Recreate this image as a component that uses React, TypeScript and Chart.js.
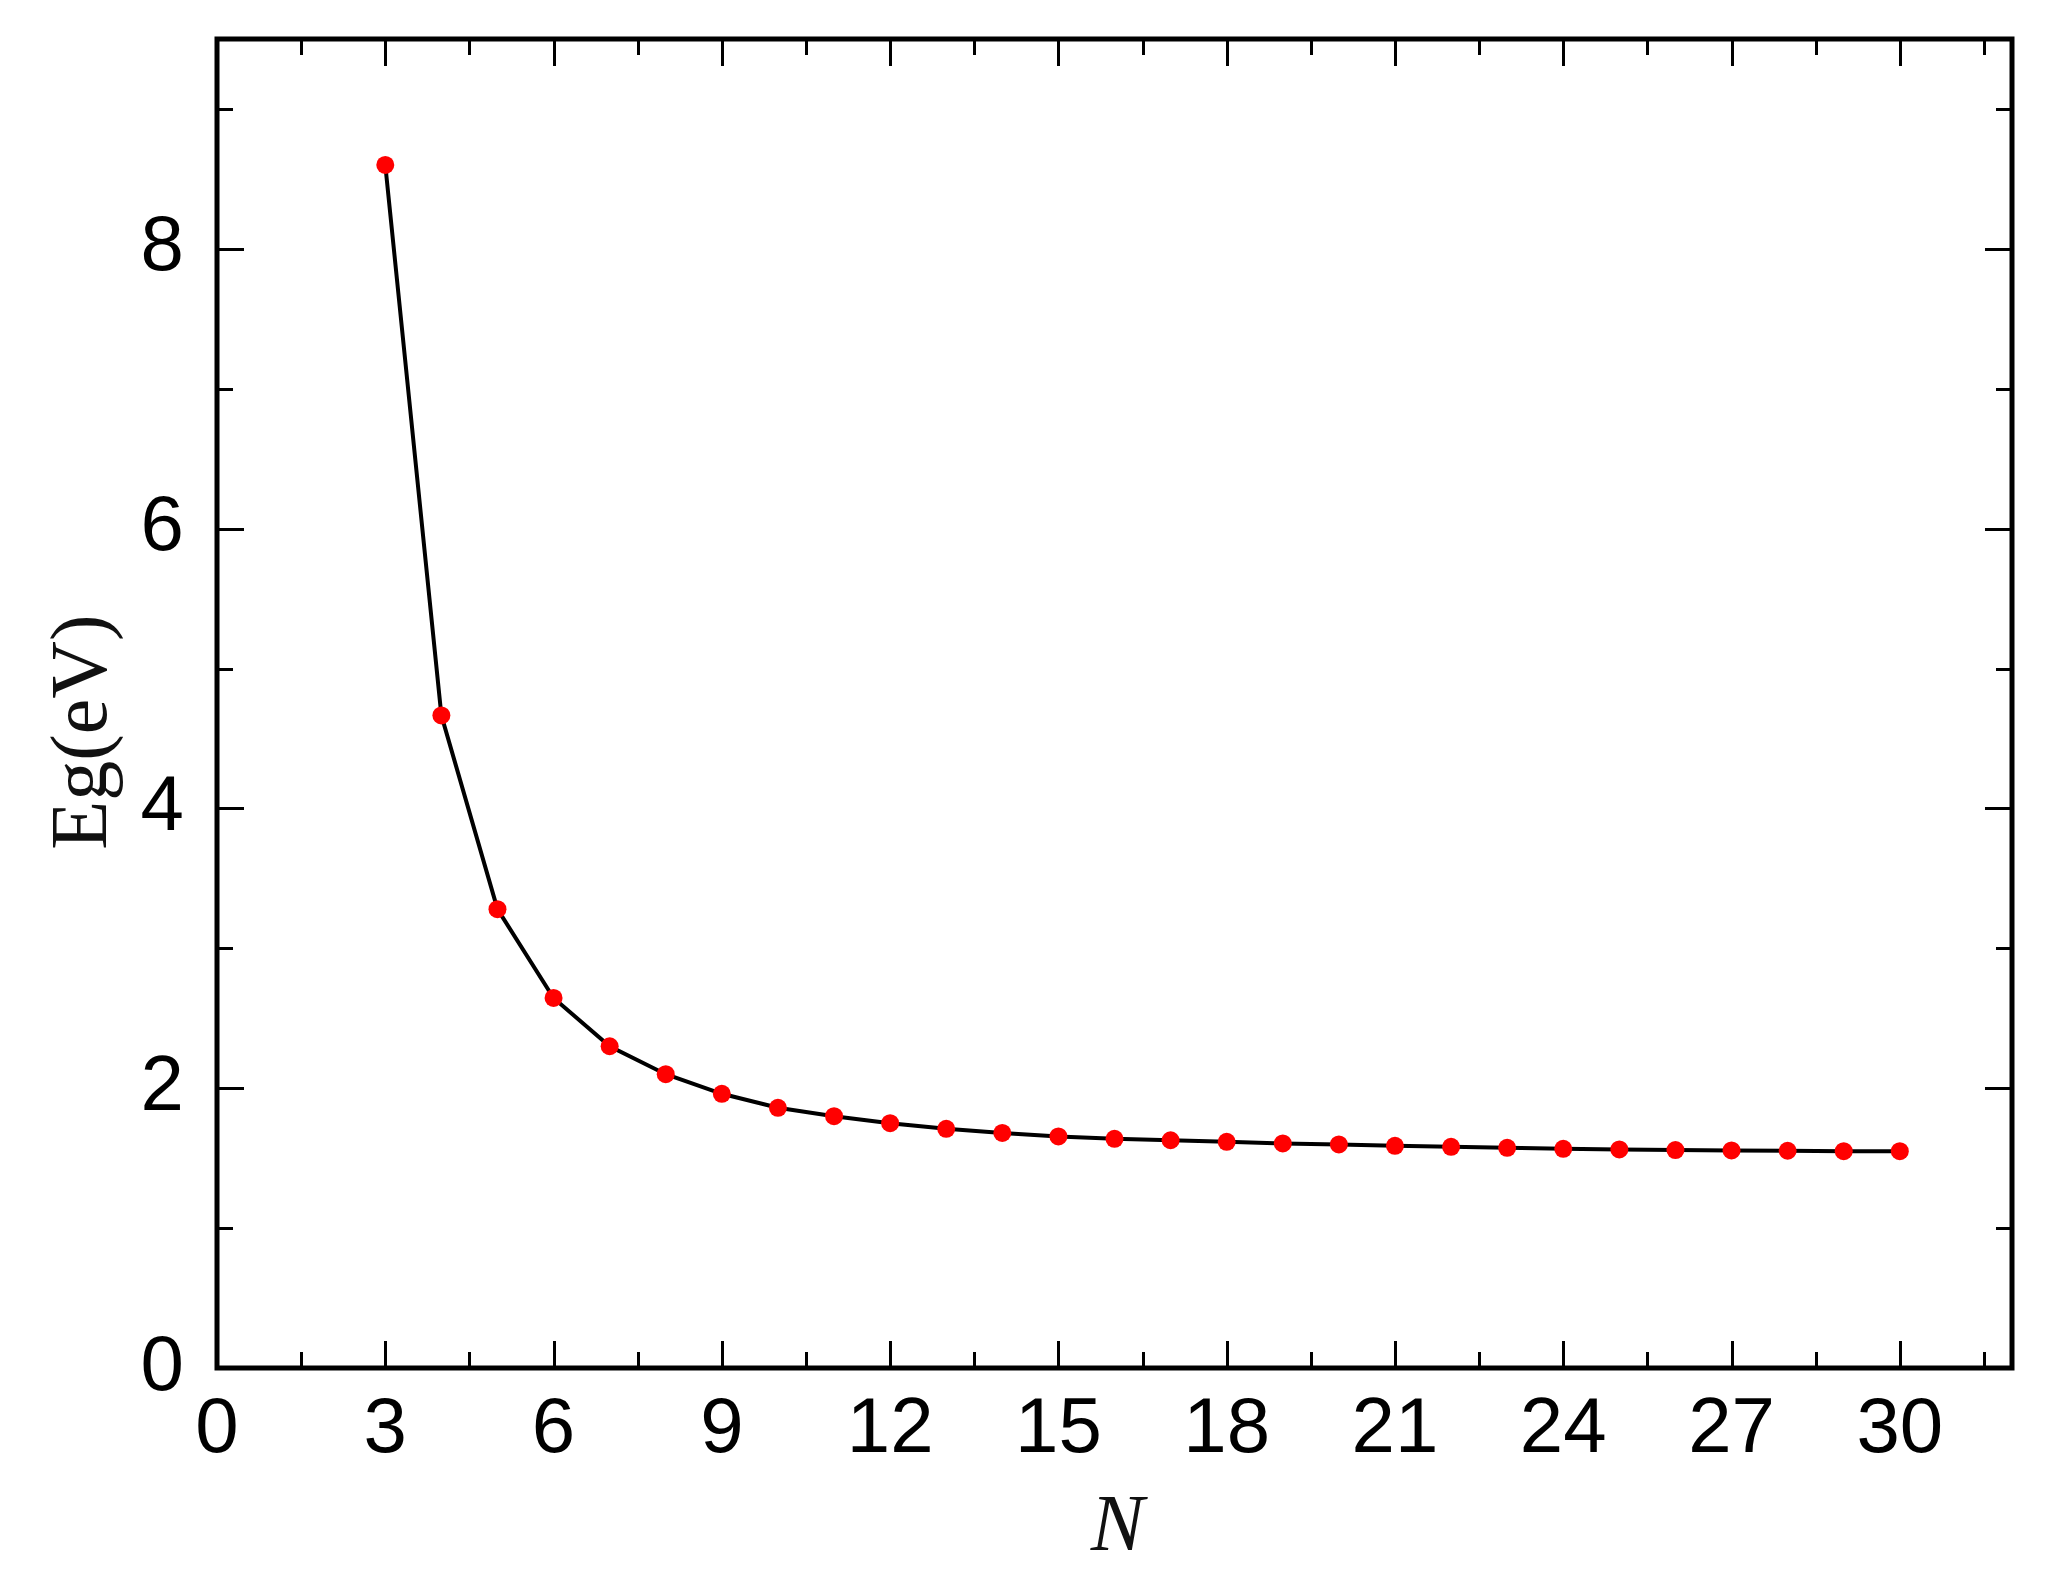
import React, { useEffect, useRef } from "react";
import { Chart, registerables } from "chart.js";

Chart.register(...registerables);

const nValues = [3, 4, 5, 6, 7, 8, 9, 10, 11, 12, 13, 14, 15, 16, 17, 18, 19, 20, 21, 22, 23, 24, 25, 26, 27, 28, 29, 30];
const egValues = [8.6, 4.665, 3.28, 2.645, 2.3, 2.1, 1.96, 1.86, 1.8, 1.75, 1.71, 1.68, 1.655, 1.638, 1.628, 1.617, 1.605, 1.598, 1.588, 1.581, 1.574, 1.567, 1.562, 1.558, 1.555, 1.553, 1.55, 1.55];

const xMajorTicks = [0, 3, 6, 9, 12, 15, 18, 21, 24, 27, 30];
const xMinorTicks = [1.5, 4.5, 7.5, 10.5, 13.5, 16.5, 19.5, 22.5, 25.5, 28.5, 31.5];
const yMajorTicks = [0, 2, 4, 6, 8];
const yMinorTicks = [1, 3, 5, 7, 9];

const xTitle = "N";
const yTitle = "Eg(eV)";

const W = 2046;
const H = 1586;

const framePlugin = {
  id: "frameTicks",
  afterDraw(chart: any) {
    const { ctx, chartArea } = chart;
    const xs = chart.scales.x;
    const ys = chart.scales.y;
    const { left, right, top, bottom } = chartArea;
    ctx.save();
    ctx.strokeStyle = "#000";
    ctx.lineCap = "butt";
    ctx.lineWidth = 3;
    const major = 27;
    const minor = 16;
    const drawX = (vals: number[], len: number) => {
      vals.forEach((v) => {
        const px = Math.round(xs.getPixelForValue(v)) + 0.5;
        ctx.beginPath();
        ctx.moveTo(px, bottom);
        ctx.lineTo(px, bottom - len);
        ctx.moveTo(px, top);
        ctx.lineTo(px, top + len);
        ctx.stroke();
      });
    };
    const drawY = (vals: number[], len: number) => {
      vals.forEach((v) => {
        const py = Math.round(ys.getPixelForValue(v)) + 0.5;
        ctx.beginPath();
        ctx.moveTo(left, py);
        ctx.lineTo(left + len, py);
        ctx.moveTo(right, py);
        ctx.lineTo(right - len, py);
        ctx.stroke();
      });
    };
    drawX(xMajorTicks, major);
    drawX(xMinorTicks, minor);
    drawY(yMajorTicks, major);
    drawY(yMinorTicks, minor);
    ctx.lineWidth = 5;
    ctx.strokeRect(left, top, right - left, bottom - top);
    ctx.fillStyle = "#111";
    ctx.font = "italic 80px 'Liberation Serif', 'Times New Roman', serif";
    ctx.textAlign = "center";
    ctx.textBaseline = "alphabetic";
    ctx.fillText(xTitle, (left + right) / 2 + 3, 1550);
    ctx.translate(106, 732);
    ctx.rotate(-Math.PI / 2);
    ctx.font = "80px 'Liberation Serif', 'Times New Roman', serif";
    ctx.textAlign = "center";
    ctx.textBaseline = "alphabetic";
    ctx.fillText(yTitle, 0, 0);
    ctx.restore();
  },
};

export default function App() {
  const ref = useRef<HTMLCanvasElement | null>(null);
  useEffect(() => {
    if (!ref.current) return;
    const tickFont = { family: "'Liberation Sans', Arial, sans-serif", size: 78 };
    const chart = new Chart(ref.current, {
      type: "line",
      data: {
        datasets: [
          {
            data: nValues.map((n, i) => ({ x: n, y: egValues[i] })),
            borderColor: "#000",
            borderWidth: 4,
            pointRadius: 9,
            pointBackgroundColor: "#ff0000",
            pointBorderWidth: 0,
            tension: 0,
            fill: false,
          },
        ],
      },
      options: {
        animation: false,
        responsive: false,
        devicePixelRatio: 1,
        layout: { padding: { left: 0, top: 39, right: 34, bottom: 0 } },
        plugins: { legend: { display: false }, tooltip: { enabled: false } },
        scales: {
          x: {
            type: "linear",
            min: 0,
            max: 32,
            grid: { display: false, drawTicks: false },
            border: { display: false },
            ticks: { font: tickFont, color: "#000", padding: 16, maxRotation: 0, autoSkip: false },
            afterBuildTicks: (s: any) => {
              s.ticks = xMajorTicks.map((v) => ({ value: v }));
            },
            afterFit: (s: any) => {
              s.height = H - 1368;
              s.paddingLeft = 0;
              s.paddingRight = 0;
              s.paddingTop = 0;
              s.paddingBottom = 0;
            },
          },
          y: {
            type: "linear",
            min: 0,
            max: 9.5,
            grid: { display: false, drawTicks: false },
            border: { display: false },
            ticks: { font: tickFont, color: "#000", padding: 33, autoSkip: false },
            afterBuildTicks: (s: any) => {
              s.ticks = yMajorTicks.map((v) => ({ value: v }));
            },
            afterFit: (s: any) => {
              s.width = 217;
              s.paddingLeft = 0;
              s.paddingRight = 0;
              s.paddingTop = 0;
              s.paddingBottom = 0;
            },
          },
        },
      },
      plugins: [framePlugin],
    });
    return () => chart.destroy();
  }, []);
  return (
    <div style={{ position: "absolute", left: 0, top: 0, width: W, height: H, background: "#fff" }}>
      <canvas ref={ref} width={W} height={H} style={{ display: "block" }} />
    </div>
  );
}
